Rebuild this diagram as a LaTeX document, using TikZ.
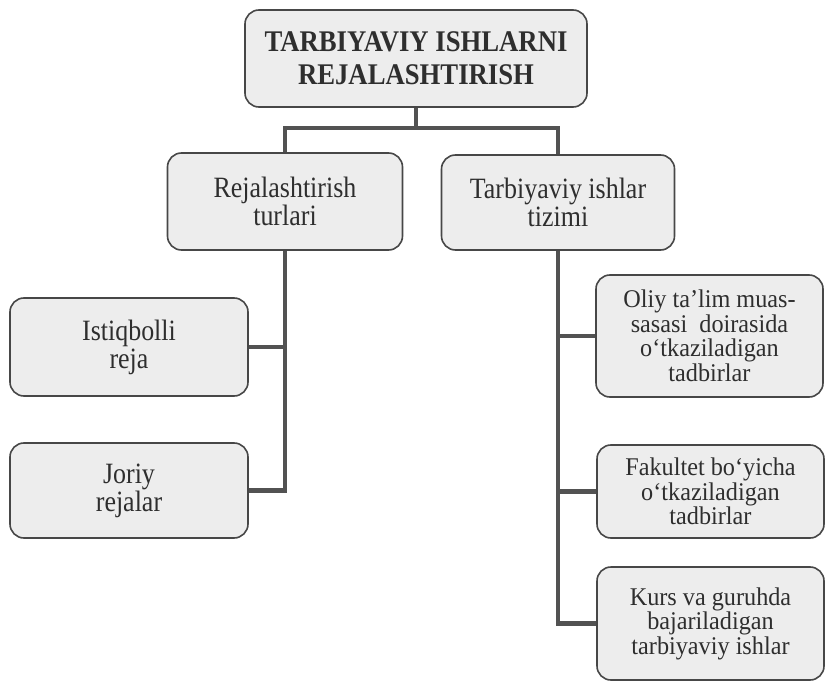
\documentclass[tikz,border=0pt]{standalone}
\usepackage{fontspec}
\setmainfont{Liberation Serif}
\newfontfamily\condA[FakeStretch=0.88]{Liberation Serif}
\newfontfamily\condR[FakeStretch=0.95]{Liberation Serif}
\newfontfamily\condT[FakeStretch=0.89]{Liberation Serif Bold}
\begin{document}
\begin{tikzpicture}[x=1pt,y=-1pt,
  box/.style={draw=black!72, line width=1.6pt, fill=gray!14, rounded corners=14pt,
    align=center, inner sep=0pt, font=\condA\fontsize{29.5}{28}\selectfont, text=black!82},
  topbox/.style={box, font=\condT\fontsize{30}{33}\selectfont},
  rbox/.style={box, font=\condR\fontsize{25.5}{24.5}\selectfont},
  conn/.style={draw=black!68, line width=4.5pt, line join=miter}]
\useasboundingbox (0,0) rectangle (825,682);
\fill[white] (0,0) rectangle (825,682);

\node[topbox, minimum width=342pt, minimum height=97pt] (top) at (416,58.5)
  {TARBIYAVIY ISHLARNI\\REJALASHTIRISH};
\node[box, minimum width=235pt, minimum height=97pt] (ml) at (285,201.5)
  {Rejalashtirish\\turlari};
\node[box, minimum width=233pt, minimum height=95pt] (mr) at (558,202.5)
  {Tarbiyaviy ishlar\\tizimi};
\node[box, minimum width=238pt, minimum height=98pt] (ist) at (129,347)
  {Istiqbolli\\reja};
\node[box, minimum width=238pt, minimum height=95pt] (jor) at (129,490.5)
  {Joriy\\rejalar};
\node[rbox, minimum width=227pt, minimum height=122pt] (oliy) at (709.5,336)
  {Oliy ta’lim muas-\\sasasi\ \ doirasida\\o‘tkaziladigan\\tadbirlar};
\node[rbox, minimum width=227pt, minimum height=93pt] (fak) at (710.5,491.5)
  {Fakultet bo‘yicha\\o‘tkaziladigan\\tadbirlar};
\node[rbox, minimum width=227pt, minimum height=113pt] (kurs) at (710.5,623.5)
  {Kurs va guruhda\\bajariladigan\\tarbiyaviy ishlar};

\coordinate (hub) at (top.south |- 0,128);
\draw[conn] (top.south) -- (hub);
\draw[conn] (ml.north) |- (hub) -| (mr.north);
\draw[conn] (ml.south) |- (ist.east);
\draw[conn] (ml.south) |- (jor.east);
\draw[conn] (mr.south) |- (oliy.west);
\draw[conn] (mr.south) |- (fak.west);
\draw[conn] (mr.south) |- (kurs.west);
\end{tikzpicture}
\end{document}
